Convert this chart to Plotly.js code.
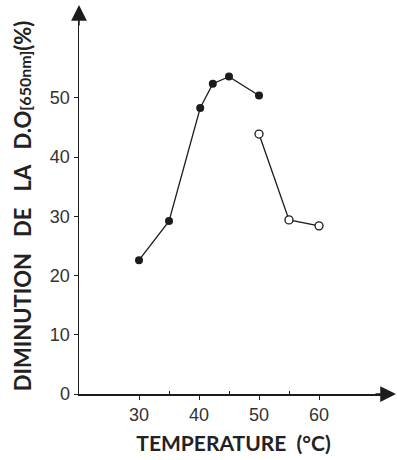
<!DOCTYPE html>
<html>
<head>
<meta charset="utf-8">
<script src="https://cdn.plot.ly/plotly-3.0.1.min.js"></script>
<style>html,body{margin:0;padding:0;background:#fff;}#chart{width:397px;height:460px;}</style>
</head>
<body>
<div id="chart"></div>
<script>
// Temperature (°C) and decrease of optical density (%)
const tempFilled = [30, 35, 40.2, 42.3, 45, 50];
const valFilled = [22.6, 29.2, 48.3, 52.4, 53.6, 50.4];
const tempOpen = [50, 55, 60];
const valOpen = [43.9, 29.4, 28.4];
const xTickVals = [30, 40, 50, 60];
const xMinorVals = [35, 45, 55];
const yTickVals = [0, 10, 20, 30, 40, 50];

const ink = '#1c1c1c';
const traces = [
  {x: tempFilled, y: valFilled, mode: 'lines+markers', type: 'scatter',
   line: {color: ink, width: 1.3},
   marker: {symbol: 'circle', size: 8, color: ink}},
  {x: tempOpen, y: valOpen, mode: 'lines+markers', type: 'scatter',
   line: {color: ink, width: 1.3},
   marker: {symbol: 'circle', size: 8, color: '#fff', line: {color: ink, width: 1.3}}}
];

const nb = '\u00a0';
const layout = {
  width: 397, height: 460,
  margin: {l: 79, r: 9, t: 18, b: 66},
  paper_bgcolor: '#fff', plot_bgcolor: '#fff',
  showlegend: false,
  font: {family: 'Liberation Sans, Arial, sans-serif', color: '#333', size: 18},
  xaxis: {
    range: [20, 71.5], showgrid: false, zeroline: false,
    showline: true, linecolor: ink, linewidth: 1.5,
    tickmode: 'array', tickvals: xTickVals, ticktext: xTickVals.map(String),
    ticks: 'outside', ticklen: 4, tickcolor: ink, tickwidth: 1,
    minor: {tickmode: 'array', tickvals: xMinorVals, ticks: 'inside', ticklen: 3, tickcolor: ink, tickwidth: 1},
    tickfont: {size: 18, color: '#333'},
    title: {text: 'TEMPERATURE' + nb + nb + '(°C)', font: {family: 'Lato, sans-serif', size: 21, color: '#222', weight: 'bold'}, standoff: 12}
  },
  yaxis: {
    range: [0, 63.5], showgrid: false, zeroline: false,
    showline: true, linecolor: ink, linewidth: 1.5,
    tickmode: 'array', tickvals: yTickVals, ticktext: yTickVals.map(String),
    ticks: 'outside', ticklen: 4, tickcolor: ink, tickwidth: 1,
    tickfont: {size: 18, color: '#333'},
    title: {text: 'DIMINUTION' + nb + nb + nb + 'DE' + nb + nb + nb + 'LA' + nb + nb + nb + 'D.O<span style="font-size:16px">[650nm]</span>(%)',
            font: {family: 'Lato, sans-serif', size: 22, color: '#222', weight: 'bold'}, standoff: 12}
  },
  annotations: [
    {xref: 'paper', yref: 'paper', x: 1.026, y: 0, ax: -22, ay: 0, text: '', showarrow: true,
     arrowhead: 2, arrowsize: 2.1, arrowwidth: 1.5, arrowcolor: ink},
    {xref: 'paper', yref: 'paper', x: 0, y: 1.0346, ax: 0, ay: 22, text: '', showarrow: true,
     arrowhead: 2, arrowsize: 2.1, arrowwidth: 1.5, arrowcolor: ink}
  ]
};

Plotly.newPlot('chart', traces, layout, {displayModeBar: false, staticPlot: true});
</script>
</body>
</html>
